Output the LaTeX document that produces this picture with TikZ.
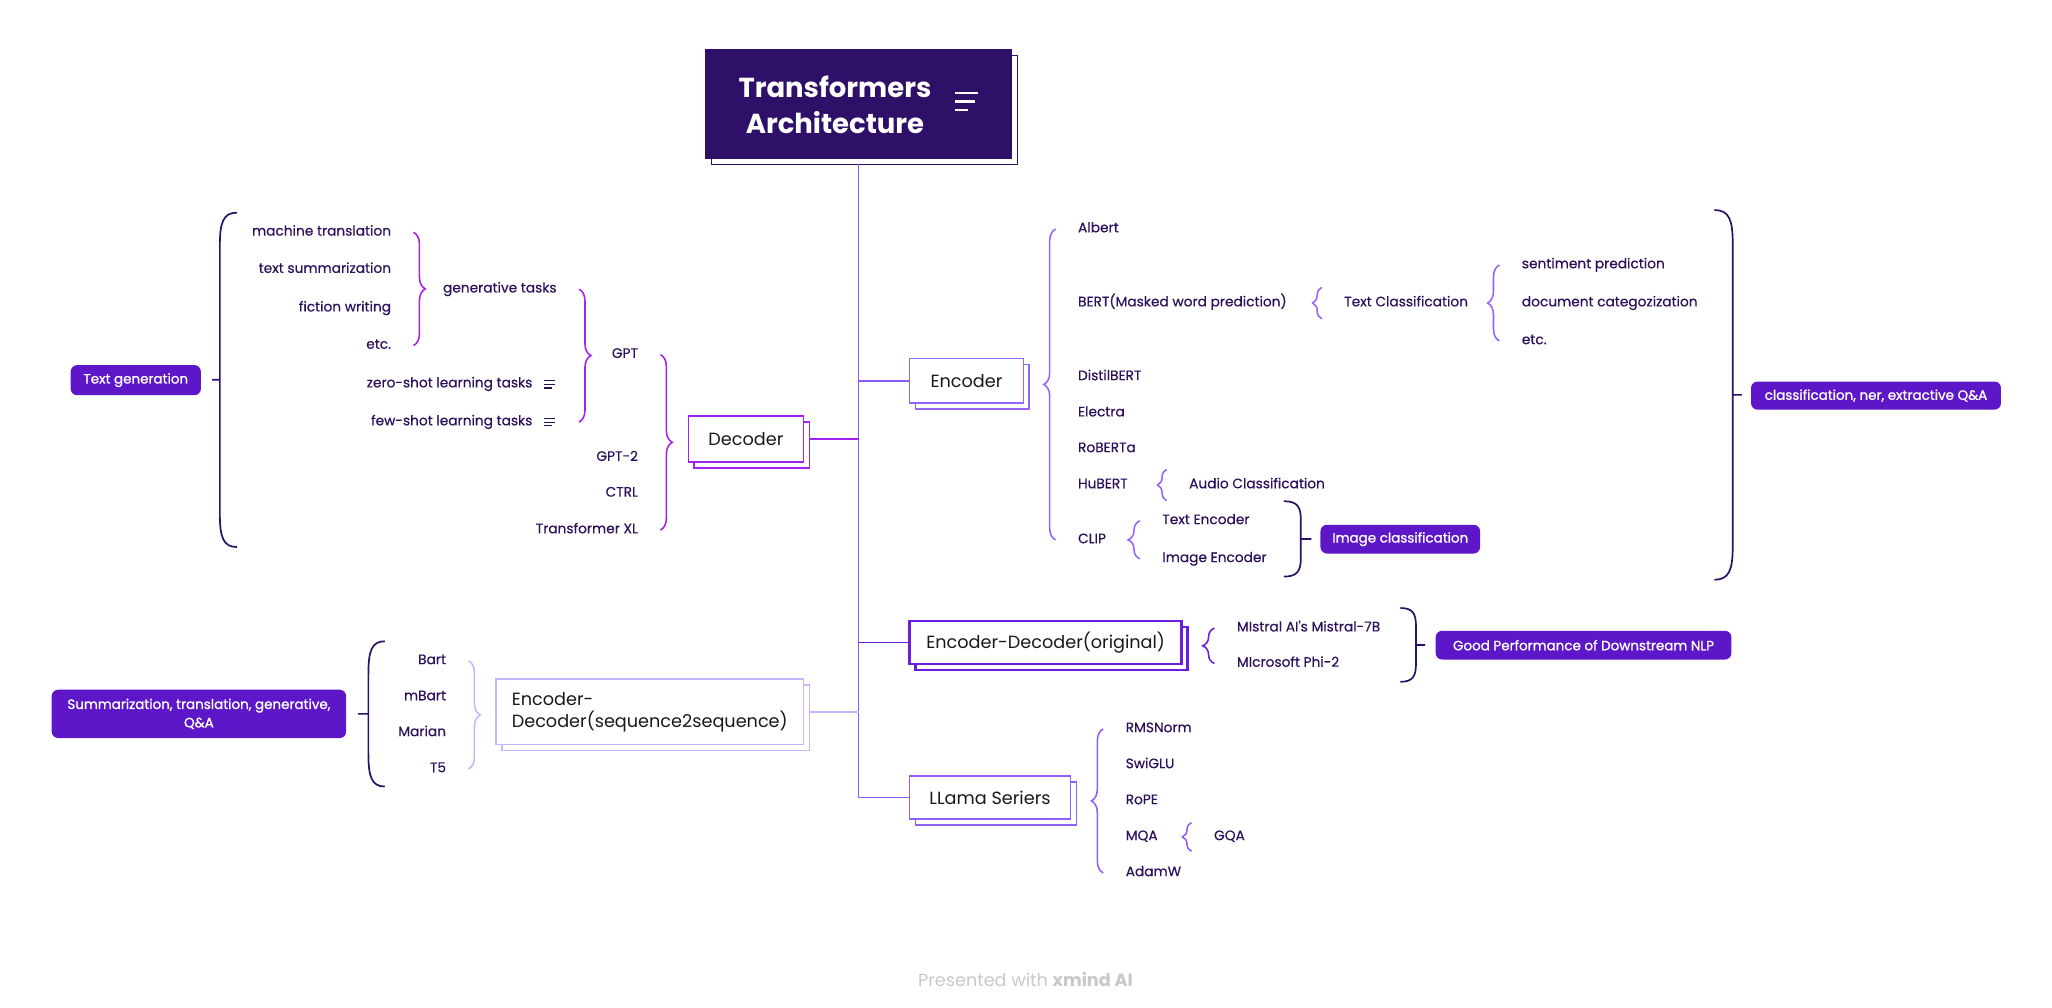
\documentclass[tikz,border=0pt]{standalone}
\usepackage{fontspec}
\setmainfont{Poppins}
\newfontfamily\leaffont{Poppins}[FakeBold=0.4]
\newfontfamily\pillfont{Poppins}[FakeBold=1.2]
\usetikzlibrary{decorations.pathreplacing,shadows}

\definecolor{titleC}{RGB}{46,16,105}
\definecolor{sumC}{RGB}{45,15,100}
\definecolor{pillC}{RGB}{94,23,200}
\definecolor{txtC}{RGB}{45,16,92}
\definecolor{trunkC}{RGB}{140,90,246}
\definecolor{decC}{RGB}{164,34,240}
\definecolor{encC}{RGB}{150,100,250}
\definecolor{edC}{RGB}{108,30,222}
\definecolor{llC}{RGB}{145,95,250}
\definecolor{s2sC}{RGB}{200,182,252}
\definecolor{footC}{RGB}{200,200,200}

\begin{document}
\begin{tikzpicture}[x=1pt, y=-1pt,
    leaf/.style={font=\leaffont\fontsize{10.5}{12}\selectfont, text=txtC, inner sep=0pt, text height=7.5pt, text depth=2.5pt},
    box/.style 2 args={draw=#1, fill=white, line width=#2, text=black!90, font=\fontsize{13.5}{17}\selectfont,
      copy shadow={shadow xshift=4.5pt, shadow yshift=-4.5pt, draw=#1, fill=white, line width=#2}},
    pill/.style={fill=pillC, rounded corners=5pt, text=white, inner sep=2pt, font=\pillfont\fontsize{10.3}{14}\selectfont, align=center},
    brc/.style={decorate, decoration={brace, amplitude=#1}},
    brc/.default=9pt,
    sumbrace/.style={draw=sumC, line width=1.3pt},
    link/.style={draw=#1, line width=1.2pt}
  ]
  \useasboundingbox (0,0) rectangle (1568,770);

  % root
  \node[fill=titleC, draw=titleC, minimum width=234pt, minimum height=83pt,
    copy shadow={shadow xshift=4.5pt, shadow yshift=-4.5pt, fill=white, draw=titleC, line width=1pt}] (title) at (656,79.5) {};
  \node[text=white, font=\fontsize{21}{28}\selectfont\bfseries, align=center] (titletxt) at (638,80) {Transformers\\Architecture};
  \draw[white, line width=2pt] (730,71) -- (747,71) (730,77.5) -- (745,77.5) (730,84) -- (740,84);

  % main branches
  \node[box={decC}{1.3pt}, minimum width=88pt, minimum height=35pt] (dec) at (570,335.5) {Decoder};
  \node[box={encC}{1.3pt}, minimum width=87pt, minimum height=34pt] (enc) at (738.5,291) {Encoder};
  \node[box={edC}{2pt}, minimum width=208pt, minimum height=33pt] (encdec) at (799,491) {Encoder-Decoder(original)};
  \node[box={llC}{1.3pt}, minimum width=123pt, minimum height=33pt] (llama) at (756.5,609.5) {LLama Seriers};
  \node[box={s2sC}{1.3pt}, minimum width=235pt, minimum height=50pt, align=left] (s2s) at (496.5,544) {Encoder-\\Decoder(sequence2sequence)};

  \draw[link=trunkC] ([yshift=-4.5pt]title.south) -- (title.south |- llama.west) -- (llama.west);
  \draw[link=trunkC] (title.south |- enc.west) -- (enc.west);
  \draw[link=edC] (title.south |- encdec.west) -- (encdec.west);
  \draw[link=decC] ([xshift=4.5pt]dec.east) -- (title.south |- dec.east);
  \draw[link=s2sC] ([xshift=4.5pt]s2s.east) -- (title.south |- s2s.east);

  % decoder side
  \foreach \nm/\txt/\yy in {mt/machine translation/177.5, ts/text summarization/206, fw/fiction writing/235.5, etcA/etc./264}
    \node[leaf, anchor=east] (\nm) at (299,\yy) {\txt};
  \node[leaf, anchor=east] (gen) at (425.5,221) {generative tasks};
  \node[leaf, anchor=east] (zs) at (407,293.5) {zero-shot learning tasks};
  \node[leaf, anchor=east] (fs) at (407,322.5) {few-shot learning tasks};
  \foreach \nm in {zs,fs}
    \draw[txtC, line width=0.8pt] ([xshift=9pt,yshift=3pt]\nm.east) -- ++(8,0)
      ([xshift=9pt]\nm.east) -- ++(8,0) ([xshift=9pt,yshift=-3pt]\nm.east) -- ++(5.5,0);
  \foreach \nm/\txt/\yy in {gpt/GPT/271, gpt2/GPT-2/349.7, ctrl/CTRL/377, txl/Transformer XL/405}
    \node[leaf, anchor=east] (\nm) at (487.7,\yy) {\txt};

  \coordinate (gpttop) at ([xshift=17pt]gen.east);
  \draw[brc, decC, line width=1.2pt] ([xshift=17pt]mt.east) -- ([xshift=17pt]etcA.east);
  \draw[brc, decC, line width=1.2pt] (gpttop) -- (gpttop |- fs.east);
  \draw[brc, decC, line width=1.2pt] ([xshift=17pt]gpt.east) -- ([xshift=17pt]txl.east);

  % seq2seq side
  \foreach \nm/\txt/\yy in {bart/Bart/505, mbart/mBart/532.6, marian/Marian/560, tfive/T5/587.6}
    \node[leaf, anchor=east] (\nm) at (341,\yy) {\txt};
  \draw[brc, s2sC, line width=1.2pt] ([xshift=17pt]bart.east) -- ([xshift=17pt]tfive.east);

  % encoder side
  \foreach \nm/\txt/\yy in {albert/Albert/175, bert/BERT(Masked word prediction)/231.6, distil/DistilBERT/288, electra/Electra/315.7, roberta/RoBERTa/343, hubert/HuBERT/370.6, clip/CLIP/412.6}
    \node[leaf, anchor=west] (\nm) at (823.6,\yy) {\txt};
  \node[leaf, anchor=west] (textcls) at (1027,231.6) {Text Classification};
  \foreach \nm/\txt/\yy in {senti/sentiment prediction/202.5, doccat/document categozization/231.6, etcB/etc./260.5}
    \node[leaf, anchor=west] (\nm) at (1162.7,\yy) {\txt};
  \node[leaf, anchor=west] (audio) at (908.5,370.6) {Audio Classification};
  \node[leaf, anchor=west] (textenc) at (888,398) {Text Encoder};
  \node[leaf, anchor=west] (imgenc) at (888,427) {Image Encoder};

  \draw[brc, encC, line width=1.2pt] ([xshift=-17pt]clip.west) -- ([xshift=-17pt]albert.west);
  \draw[brc=7pt, encC, line width=1.2pt] ([xshift=-17pt,yshift=-12pt]textcls.west) -- ([xshift=-17pt,yshift=12pt]textcls.west);
  \draw[brc, encC, line width=1.2pt] ([xshift=-17pt]etcB.west) -- ([xshift=-17pt]senti.west);
  \draw[brc=7pt, encC, line width=1.2pt] ([xshift=-17pt,yshift=-12pt]audio.west) -- ([xshift=-17pt,yshift=12pt]audio.west);
  \draw[brc, encC, line width=1.2pt] ([xshift=-17pt]imgenc.west) -- ([xshift=-17pt]textenc.west);

  % encoder-decoder and llama
  \node[leaf, anchor=west] (mistral) at (945,480) {MIstral AI's Mistral-7B};
  \node[leaf, anchor=west] (phi) at (945,507) {MIcrosoft Phi-2};
  \draw[brc, edC, line width=1.2pt] ([xshift=-17pt]phi.west) -- ([xshift=-17pt]mistral.west);
  \foreach \nm/\txt/\yy in {rms/RMSNorm/557, swiglu/SwiGLU/584.5, rope/RoPE/612, mqa/MQA/639.5, adamw/AdamW/667}
    \node[leaf, anchor=west] (\nm) at (860,\yy) {\txt};
  \node[leaf, anchor=west] (gqa) at (927.5,639.5) {GQA};
  \draw[brc, llC, line width=1.2pt] ([xshift=-17pt]adamw.west) -- ([xshift=-17pt]rms.west);
  \draw[brc=7pt, llC, line width=1.2pt] ([xshift=-17pt,yshift=-11pt]gqa.west) -- ([xshift=-17pt,yshift=11pt]gqa.west);

  % summaries
  \foreach \xa/\xb/\ya/\yb/\tk in {181/168/162.5/418/-6, 294/281.5/490/601/-8, 1310/1324/160.5/443/7, 981/994/383/440.6/8, 1070/1082/464.6/521/7}{
    \pgfmathsetmacro\cc{min(25,(\yb-\ya)/4)}
    \draw[sumbrace] (\xa,\ya) .. controls ({\xa+0.8*(\xb-\xa)},\ya) and (\xb,{\ya+0.3*\cc}) .. (\xb,{\ya+\cc})
      -- (\xb,{\yb-\cc}) .. controls (\xb,{\yb-0.3*\cc}) and ({\xa+0.8*(\xb-\xa)},\yb) .. (\xa,\yb)
      (\xb,{(\ya+\yb)/2}) -- ++(\tk,0);
  }
  \node[pill, minimum width=99.5pt, minimum height=23pt] (textgen) at (103.75,290.5) {Text generation};
  \node[pill, minimum width=225pt, minimum height=37pt] (summ) at (152,545.5) {Summarization, translation, generative,\\Q\&A};
  \node[pill, minimum width=122pt, minimum height=22pt] (imgcls) at (1070,412) {Image classification};
  \node[pill, minimum width=191pt, minimum height=21.5pt] (clsner) at (1433.5,302.3) {classification, ner, extractive Q\&A};
  \node[pill, minimum width=226pt, minimum height=22pt] (goodperf) at (1210,493) {Good Performance of Downstream NLP};

  \node[text=footC, font=\fontsize{13.5}{16}\selectfont] (footer) at (783.6,748.5) {Presented with \textbf{xmind AI}};
\end{tikzpicture}
\end{document}
